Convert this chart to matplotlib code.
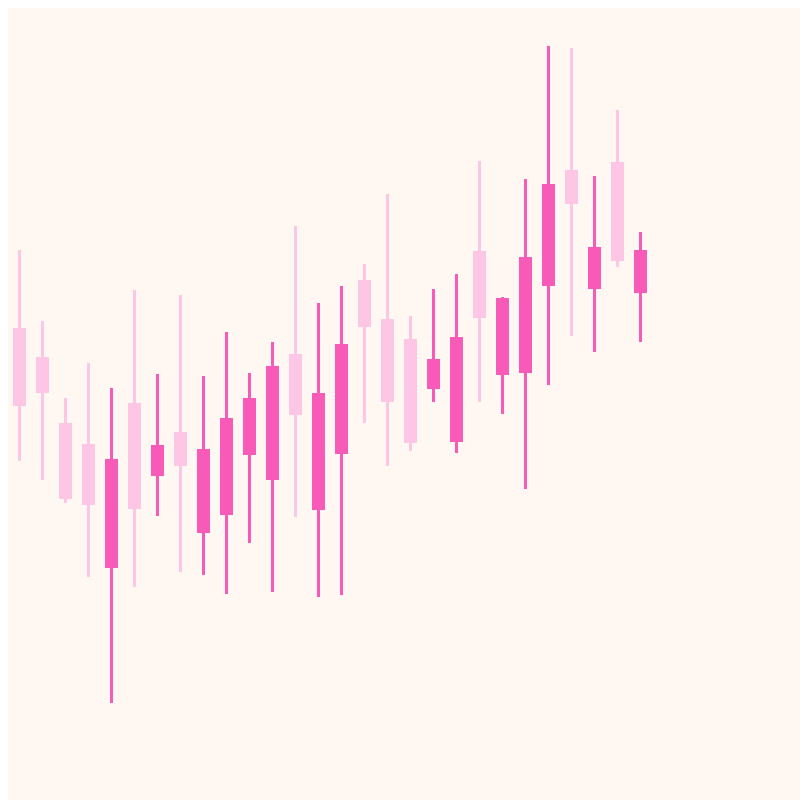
import matplotlib
matplotlib.use("Agg")
import matplotlib.pyplot as plt
import numpy as np

# OHLC values
opens  = [94.4, 88.6, 75.4, 71.2, 46.4, 79.4, 64.8, 73.6, 53.4, 57.0, 69.0, 64.0, 89.2, 58.0,
          69.2, 104.0, 96.2, 92.2, 82.2, 71.6, 109.8, 85.0, 85.4, 102.8, 126.0, 102.2, 127.6, 101.4]
highs  = [110.0, 95.8, 80.4, 87.4, 82.4, 102.0, 85.2, 101.0, 84.8, 93.6, 85.4, 91.6, 114.8, 99.4,
          102.8, 107.2, 121.2, 96.8, 102.2, 105.2, 127.8, 100.6, 124.2, 150.8, 150.4, 124.8, 138.0, 113.6]
lows   = [67.8, 64.0, 59.4, 44.6, 19.4, 42.6, 56.8, 45.6, 45.0, 41.2, 51.4, 41.6, 56.6, 40.6,
          41.0, 75.4, 66.8, 69.8, 79.6, 69.4, 79.6, 77.2, 62.2, 83.0, 92.8, 89.6, 106.6, 91.6]
closes = [78.8, 81.4, 60.2, 59.0, 68.2, 58.2, 71.0, 66.8, 70.2, 76.4, 80.4, 86.8, 77.0, 81.4,
          91.2, 94.6, 79.6, 71.4, 88.2, 92.6, 96.4, 100.4, 108.6, 123.2, 119.2, 110.6, 107.8, 110.0]

UP = "#f85ab8"
DOWN = "#fcc6e4"
BG = "#fef7f2"

o = np.array(opens); h = np.array(highs); l = np.array(lows); c = np.array(closes)
x = np.arange(len(o))
colors = [UP if cc >= oo else DOWN for oo, cc in zip(o, c)]

fig = plt.figure(figsize=(8, 8), dpi=100, facecolor="white")
ax = fig.add_axes([8/800, 0, 792/800, 792/800])
ax.set_facecolor(BG)

ax.bar(x, h - l, bottom=l, width=0.13, color=colors, linewidth=0, zorder=2)
body_bottom = np.minimum(o, c)
body_h = np.abs(c - o)
ax.bar(x, body_h, bottom=body_bottom, width=0.57, color=colors, linewidth=0, zorder=3)

ax.set_xlim(-0.5, -0.5 + 792/23)
ax.set_ylim(0, 158.4)
for s in ax.spines.values():
    s.set_visible(False)
ax.set_xticks([]); ax.set_yticks([])

fig.savefig("out.png", dpi=100, facecolor="white")
